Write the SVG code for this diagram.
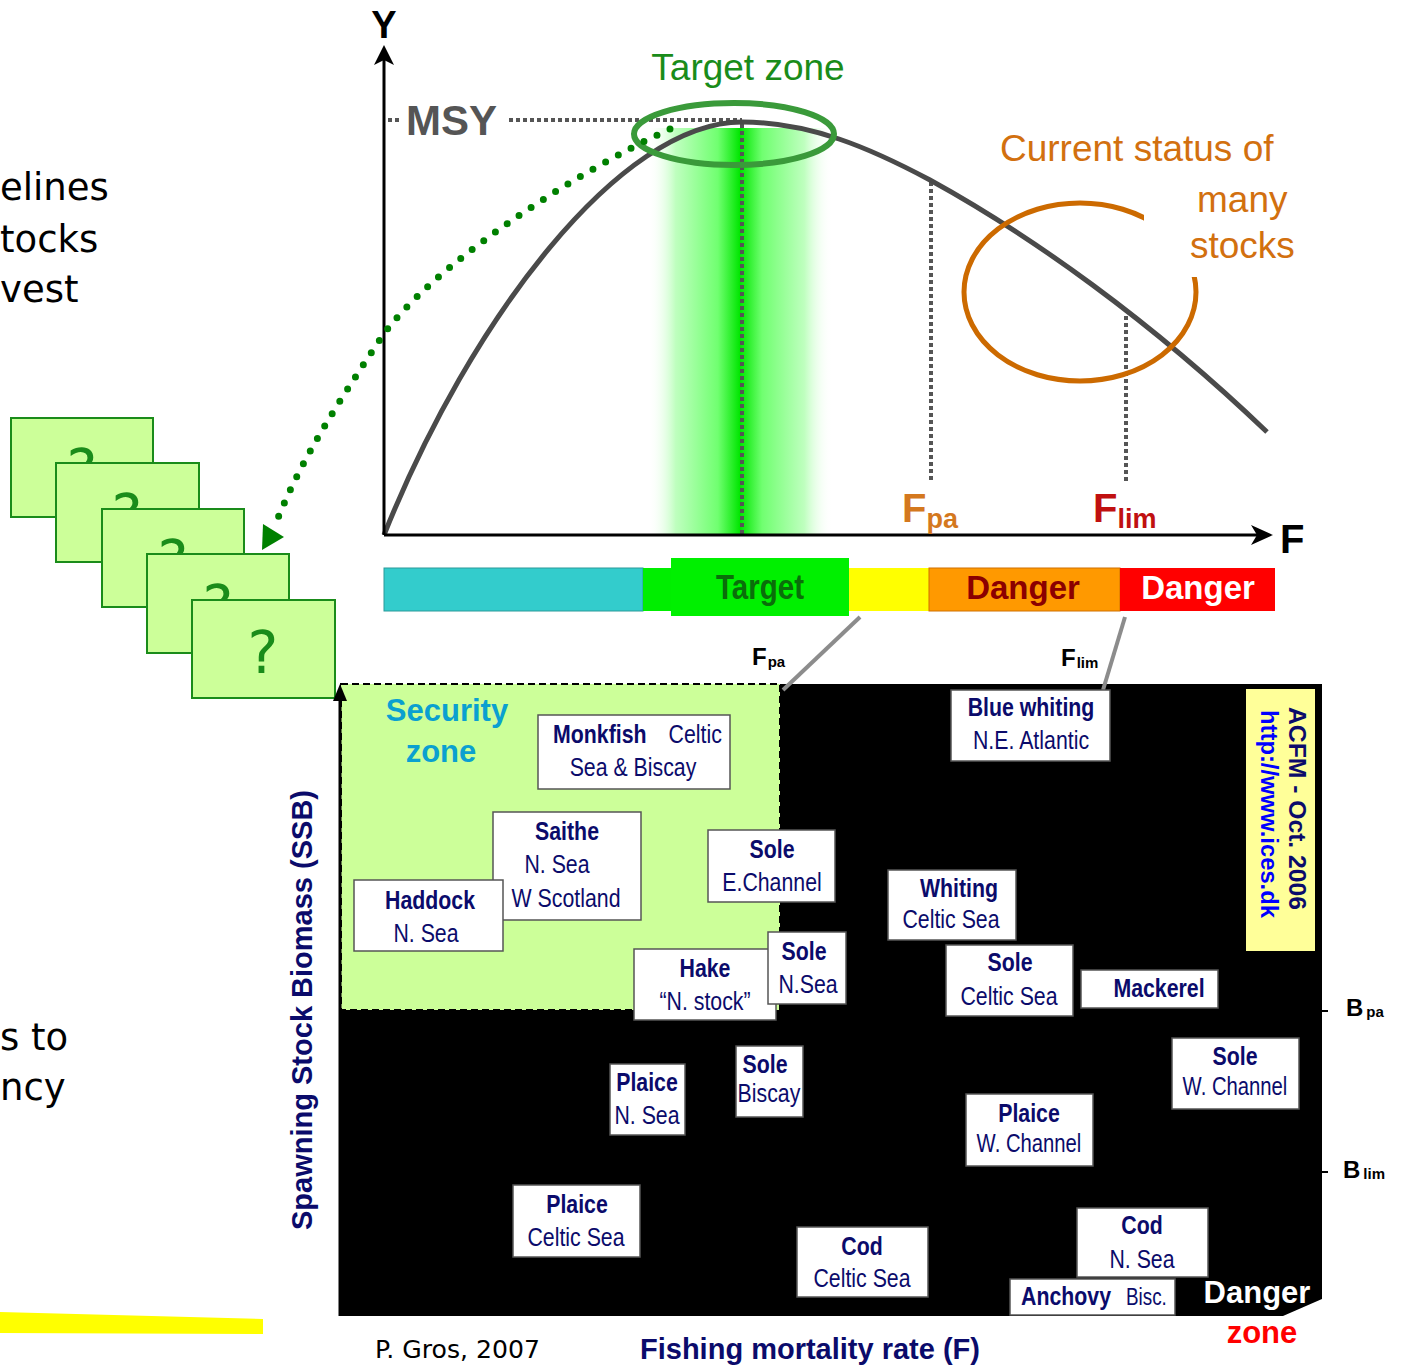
<svg xmlns="http://www.w3.org/2000/svg" width="1404" height="1365" viewBox="0 0 1404 1365">
<defs>
<style>
.b{font-family:"Liberation Sans",Arial,sans-serif;font-size:26px;fill:#0b0b6b;text-anchor:middle}
.bb{font-weight:bold}
.st{text-anchor:start}
.box{fill:#fff;stroke:#555;stroke-width:1.5}
.card{fill:#ccff99;stroke:#1a8c1a;stroke-width:2}
.q{font-family:"DejaVu Sans","Liberation Sans",sans-serif;font-size:58px;fill:#1a8c1a;text-anchor:middle}
.side{font-family:"DejaVu Sans","Liberation Sans",sans-serif;font-size:37px;fill:#000}
.ar{font-family:"Liberation Sans",Arial,sans-serif}
.dot{fill:none;stroke:#555;stroke-width:4;stroke-dasharray:4 3}
</style>
<linearGradient id="band" x1="0" x2="1" y1="0" y2="0">
<stop offset="0" stop-color="#ffffff" stop-opacity="0"/>
<stop offset="0.15" stop-color="#bfffbf"/>
<stop offset="0.38" stop-color="#70ff70"/>
<stop offset="0.5" stop-color="#00e600"/>
<stop offset="0.62" stop-color="#70ff70"/>
<stop offset="0.85" stop-color="#bfffbf"/>
<stop offset="1" stop-color="#ffffff" stop-opacity="0"/>
</linearGradient>
</defs>
<rect width="1404" height="1365" fill="#fff"/>

<!-- left slide text -->
<g id="side-text" class="side">
<text x="0" y="200">elines</text>
<text x="0" y="252">tocks</text>
<text x="0" y="302">vest</text>
<text x="0" y="1050">s to</text>
<text x="0" y="1100">ncy</text>
</g>
<polygon id="yellow-stripe" points="0,1312 263,1319 263,1334 0,1333" fill="#ffff00"/>

<!-- cards -->
<g id="cards">
<rect class="card" x="11" y="418" width="142" height="99"/><text class="q" x="82" y="491">?</text>
<rect class="card" x="56" y="463" width="143" height="99"/><text class="q" x="127" y="536">?</text>
<rect class="card" x="102" y="509" width="142" height="98"/><text class="q" x="173" y="582">?</text>
<rect class="card" x="147" y="554" width="142" height="99"/><text class="q" x="218" y="627">?</text>
<rect class="card" x="192" y="600" width="143" height="98"/><text class="q" x="263" y="673">?</text>
</g>

<!-- top chart -->
<g id="top-chart">
<rect x="648" y="128" width="184" height="407" fill="url(#band)"/>
<line class="dot" x1="388" y1="120" x2="400" y2="120"/>
<line class="dot" x1="509" y1="120" x2="742" y2="120"/>
<line class="dot" x1="742" y1="124" x2="742" y2="535"/>
<line class="dot" x1="931" y1="182" x2="931" y2="482"/>
<line class="dot" x1="1126" y1="316" x2="1126" y2="482"/>
<path d="M384,535 C470,320 620,122 742,122 C810,122 870,148 930,180 C1030,235 1150,320 1267,432" fill="none" stroke="#4a4a4a" stroke-width="5"/>
<ellipse cx="734" cy="134" rx="100" ry="31" fill="none" stroke="#3a9a3a" stroke-width="6"/>
<ellipse cx="1080" cy="292" rx="116" ry="89" fill="none" stroke="#cc6a00" stroke-width="5"/>
<rect x="1144" y="188" width="160" height="89" fill="#fff"/>
<line x1="384" y1="535" x2="384" y2="58" stroke="#000" stroke-width="3"/>
<path d="M384,45 L374,65 L384,60 L394,65 Z" fill="#000"/>
<line x1="384" y1="535" x2="1262" y2="535" stroke="#000" stroke-width="3"/>
<path d="M1273,535 L1251,525 L1257,535 L1251,545 Z" fill="#000"/>
<text class="ar" x="384" y="38" font-size="38" font-weight="bold" text-anchor="middle">Y</text>
<text class="ar" x="1280" y="553" font-size="40" font-weight="bold">F</text>
<text class="ar" x="406" y="135" font-size="42" font-weight="bold" fill="#555">MSY</text>
<text class="ar" x="748" y="80" font-size="37" fill="#1a8c1a" text-anchor="middle">Target zone</text>
<text class="ar" x="1000" y="161" font-size="37" fill="#d2700f">Current status of</text>
<text class="ar" x="1197" y="212" font-size="37" fill="#d2700f">many</text>
<text class="ar" x="1190" y="258" font-size="37" fill="#d2700f">stocks</text>
<text class="ar" x="902" y="522" font-size="40" font-weight="bold" fill="#d4781e">F<tspan font-size="27" dy="6">pa</tspan></text>
<text class="ar" x="1093" y="522" font-size="40" font-weight="bold" fill="#c01010">F<tspan font-size="27" dy="6">lim</tspan></text>
</g>

<!-- zone bar -->
<g id="zone-bar">
<rect x="384" y="568" width="259" height="43" fill="#33cccc" stroke="#2a9a9a" stroke-width="1"/>
<rect x="643" y="568" width="28" height="43" fill="#00ee00"/>
<rect x="671" y="558" width="178" height="58" fill="#00f000"/>
<rect x="849" y="568" width="80" height="43" fill="#ffff00"/>
<rect x="929" y="568" width="191" height="43" fill="#ff9900" stroke="#d07000" stroke-width="1"/>
<rect x="1120" y="568" width="155" height="43" fill="#ff0000"/>
<text class="ar" transform="translate(760,599) scale(0.82,1)" font-size="36" font-weight="bold" fill="#0a6e0a" text-anchor="middle">Target</text>
<text class="ar" x="1023" y="599" font-size="33" font-weight="bold" fill="#8b0000" text-anchor="middle">Danger</text>
<text class="ar" x="1198" y="599" font-size="33" font-weight="bold" fill="#fff" text-anchor="middle">Danger</text>
<text class="ar" x="752" y="665" font-size="24" font-weight="bold">F<tspan font-size="15" dx="1" dy="2">pa</tspan></text>
<text class="ar" x="1061" y="666" font-size="24" font-weight="bold">F<tspan font-size="15" dx="1" dy="2">lim</tspan></text>
</g>

<!-- lower chart background -->
<g id="lower-chart">
<polygon points="340,684 1322,684 1322,1299 1283,1316 340,1316" fill="#000"/>
<rect x="341" y="684" width="439" height="326" fill="#ccff99" stroke="#000" stroke-width="2" stroke-dasharray="7 4"/>
<line x1="340" y1="1316" x2="340" y2="698" stroke="#000" stroke-width="3"/>
<path d="M340,684 L333,701 L347,701 Z" fill="#000"/>
<line x1="1322" y1="1011" x2="1328" y2="1011" stroke="#000" stroke-width="2"/>
<line x1="1322" y1="1172" x2="1328" y2="1172" stroke="#000" stroke-width="2"/>
<text class="ar" x="447" y="721" font-size="31" font-weight="bold" fill="#0aa0d0" text-anchor="middle">Security</text>
<text class="ar" x="441" y="762" font-size="31" font-weight="bold" fill="#0aa0d0" text-anchor="middle">zone</text>
<text class="ar" x="1346" y="1016" font-size="24" font-weight="bold">B<tspan font-size="15" dx="3" dy="1">pa</tspan></text>
<text class="ar" x="1343" y="1178" font-size="24" font-weight="bold">B<tspan font-size="15" dx="3" dy="1">lim</tspan></text>
<text class="ar" x="1257" y="1303" font-size="31" font-weight="bold" fill="#fff" text-anchor="middle">Danger</text>
<text class="ar" x="1262" y="1343" font-size="31" font-weight="bold" fill="#ff0000" text-anchor="middle">zone</text>
<text class="ar" transform="translate(312,1010) rotate(-90)" font-size="30" font-weight="bold" fill="#0b0b6b" text-anchor="middle" textLength="440" lengthAdjust="spacingAndGlyphs">Spawning Stock Biomass (SSB)</text>
<text class="ar" x="810" y="1359" font-size="29" font-weight="bold" fill="#0b0b6b" text-anchor="middle">Fishing mortality rate (F)</text>
<text x="375" y="1358" font-size="25" fill="#000" textLength="165" lengthAdjust="spacingAndGlyphs" style="font-family:'DejaVu Sans','Liberation Sans',sans-serif">P. Gros, 2007</text>
</g>

<!-- connectors -->
<g id="connectors">
<path d="M670,129 C560,180 430,270 383,335 C340,400 300,460 274,528" fill="none" stroke="#008000" stroke-width="7" stroke-linecap="round" stroke-dasharray="0 14.5"/>
<polygon points="262,550 263,524 284,537" fill="#008000"/>
<line x1="860" y1="617" x2="783" y2="690" stroke="#8c8c8c" stroke-width="4"/>
<line x1="1125" y1="617" x2="1103" y2="690" stroke="#8c8c8c" stroke-width="4"/>
</g>

<!-- stock boxes -->
<g id="monkfish"><rect class="box" x="538" y="715" width="192" height="74"/><text class="b st" transform="translate(553,743) scale(0.82,1)"><tspan class="bb" x="0">Monkfish</tspan><tspan x="141">Celtic</tspan></text><text class="b" transform="translate(633,776) scale(0.82,1)">Sea &amp; Biscay</text></g>
<g id="saithe"><rect class="box" x="493" y="812" width="148" height="108"/><text class="b bb" transform="translate(567,840) scale(0.82,1)">Saithe</text><text class="b" transform="translate(557,873) scale(0.82,1)">N. Sea</text><text class="b" transform="translate(566,907) scale(0.82,1)">W Scotland</text></g>
<g id="haddock"><rect class="box" x="354" y="880" width="149" height="71"/><text class="b bb" transform="translate(430,909) scale(0.82,1)">Haddock</text><text class="b" transform="translate(426,942) scale(0.82,1)">N. Sea</text></g>
<g id="sole-echannel"><rect class="box" x="708" y="830" width="127" height="72"/><text class="b bb" transform="translate(772,858) scale(0.82,1)">Sole</text><text class="b" transform="translate(772,891) scale(0.82,1)">E.Channel</text></g>
<g id="hake"><rect class="box" x="634" y="949" width="142" height="71"/><text class="b bb" transform="translate(705,977) scale(0.82,1)">Hake</text><text class="b" transform="translate(705,1010) scale(0.82,1)">“N. stock”</text></g>
<g id="sole-nsea"><rect class="box" x="768" y="932" width="78" height="72"/><text class="b bb" transform="translate(804,960) scale(0.82,1)">Sole</text><text class="b" transform="translate(808,993) scale(0.82,1)">N.Sea</text></g>
<g id="blue-whiting"><rect class="box" x="951" y="690" width="159" height="71"/><text class="b bb" transform="translate(1031,716) scale(0.82,1)">Blue whiting</text><text class="b" transform="translate(1031,749) scale(0.82,1)">N.E. Atlantic</text></g>
<g id="whiting"><rect class="box" x="888" y="870" width="128" height="70"/><text class="b bb" transform="translate(959,897) scale(0.82,1)">Whiting</text><text class="b" transform="translate(951,928) scale(0.82,1)">Celtic Sea</text></g>
<g id="sole-celtic"><rect class="box" x="946" y="945" width="127" height="71"/><text class="b bb" transform="translate(1010,971) scale(0.82,1)">Sole</text><text class="b" transform="translate(1009,1005) scale(0.82,1)">Celtic Sea</text></g>
<g id="mackerel"><rect class="box" x="1081" y="970" width="137" height="38"/><text class="b bb" transform="translate(1159,997) scale(0.82,1)">Mackerel</text></g>
<g id="acfm"><rect x="1246" y="689" width="69" height="262" fill="#ffff99"/>
<text class="ar" transform="translate(1289,707) rotate(90)" font-size="24" font-weight="bold" fill="#0b0b6b" textLength="203" lengthAdjust="spacingAndGlyphs">ACFM  -  Oct. 2006</text>
<text class="ar" transform="translate(1261,710) rotate(90)" font-size="24" font-weight="bold" fill="#0000ff" textLength="208" lengthAdjust="spacingAndGlyphs">http://www.ices.dk</text></g>
<g id="plaice-nsea"><rect class="box" x="610" y="1064" width="75" height="71"/><text class="b bb" transform="translate(647,1091) scale(0.82,1)">Plaice</text><text class="b" transform="translate(647,1124) scale(0.82,1)">N. Sea</text></g>
<g id="sole-biscay"><rect class="box" x="736" y="1046" width="67" height="71"/><text class="b bb" transform="translate(765,1073) scale(0.82,1)">Sole</text><text class="b" transform="translate(769,1102) scale(0.82,1)">Biscay</text></g>
<g id="plaice-celtic"><rect class="box" x="513" y="1185" width="127" height="72"/><text class="b bb" transform="translate(577,1213) scale(0.82,1)">Plaice</text><text class="b" transform="translate(576,1246) scale(0.82,1)">Celtic Sea</text></g>
<g id="cod-celtic"><rect class="box" x="797" y="1227" width="131" height="70"/><text class="b bb" transform="translate(862,1255) scale(0.82,1)">Cod</text><text class="b" transform="translate(862,1287) scale(0.82,1)">Celtic Sea</text></g>
<g id="sole-wchannel"><rect class="box" x="1172" y="1038" width="127" height="71"/><text class="b bb" transform="translate(1235,1065) scale(0.82,1)">Sole</text><text class="b" transform="translate(1235,1095) scale(0.78,1)">W. Channel</text></g>
<g id="plaice-wchannel"><rect class="box" x="966" y="1094" width="127" height="72"/><text class="b bb" transform="translate(1029,1122) scale(0.82,1)">Plaice</text><text class="b" transform="translate(1029,1152) scale(0.78,1)">W. Channel</text></g>
<g id="cod-nsea"><rect class="box" x="1077" y="1208" width="131" height="69"/><text class="b bb" transform="translate(1142,1234) scale(0.82,1)">Cod</text><text class="b" transform="translate(1142,1268) scale(0.82,1)">N. Sea</text></g>
<g id="anchovy"><rect class="box" x="1010" y="1279" width="165" height="36"/><text class="b st" transform="translate(1021,1305) scale(0.82,1)"><tspan class="bb" x="0">Anchovy</tspan><tspan x="128" font-size="23">Bisc.</tspan></text></g>
</svg>
